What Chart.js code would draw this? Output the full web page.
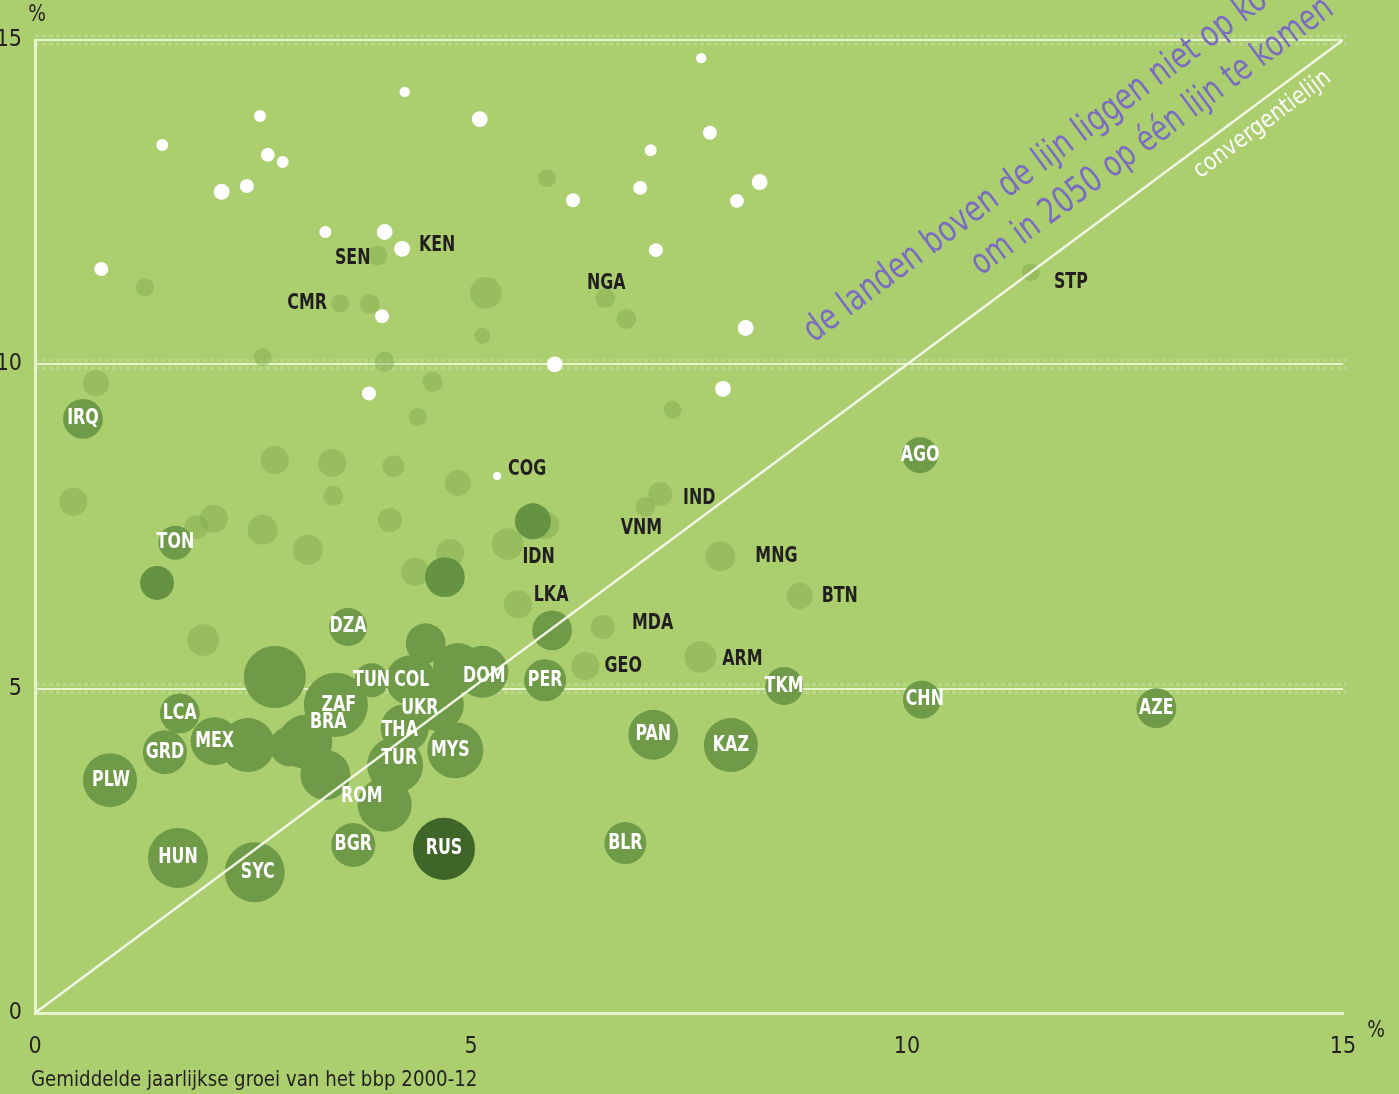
<!DOCTYPE html>
<html lang="nl">
<head>
<meta charset="utf-8">
<title>Groei en convergentie</title>
<script src="https://cdn.jsdelivr.net/npm/chart.js@4.4.1/dist/chart.umd.min.js"></script>
<style>
  html, body { margin: 0; padding: 0; background: #abce6f; }
  #wrap { width: 1399px; height: 1094px; }
</style>
</head>
<body>
<div id="wrap"><canvas id="groeiChart" width="1399" height="1094"></canvas></div>
<script>
// x: gemiddelde jaarlijkse groei bbp 2000-12 (%), y: benodigde groei (%), omvang: relatieve grootte van de bel

// lichte bellen
const lichtCodes  = ['', '', '', '', 'SEN', 'CMR', '', 'NGA', '', '', '', '', '', '', '', '', '', '', '', '', '', '', '', '', '', '', '', '', 'IDN', '', 'LKA', 'MDA', 'IND', 'VNM', 'MNG', 'BTN', 'GEO', 'ARM', 'STP', ''];
const lichtGroei  = [5.87, 1.26, 5.17, 5.13, 3.93, 3.50, 3.84, 6.54, 6.78, 2.61, 4.01, 0.70, 4.56, 4.39, 7.31, 2.75, 3.41, 4.11, 4.85, 3.42, 0.44, 2.05, 1.85, 2.61, 4.07, 3.13, 4.76, 4.36, 5.42, 5.85, 5.54, 6.51, 7.17, 7.00, 7.86, 8.77, 6.31, 7.63, 11.42, 1.93];
const lichtNodig  = [12.87, 11.19, 11.10, 10.44, 11.68, 10.94, 10.93, 11.02, 10.70, 10.11, 10.04, 9.71, 9.73, 9.19, 9.30, 8.52, 8.48, 8.43, 8.17, 7.97, 7.88, 7.62, 7.49, 7.45, 7.60, 7.14, 7.09, 6.80, 7.23, 7.52, 6.30, 5.95, 8.00, 7.80, 7.04, 6.43, 5.35, 5.49, 11.42, 5.75];
const lichtOmvang = [9, 9, 28, 7, 11, 9, 11, 11, 11, 9, 11, 19, 11, 9, 9, 22, 22, 13, 19, 11, 22, 22, 16, 25, 16, 25, 22, 22, 28, 22, 22, 16, 16, 11, 25, 19, 22, 28, 9, 28];

// witte stippen
const witCodes  = ['', '', '', '', '', '', '', '', '', 'KEN', '', '', '', '', '', '', '', '', '', '', '', '', '', '', '', 'COG'];
const witGroei  = [1.46, 2.58, 2.67, 2.84, 2.14, 2.43, 0.76, 3.33, 4.01, 4.21, 3.98, 3.83, 4.24, 5.10, 6.17, 6.94, 7.06, 7.12, 7.64, 7.74, 8.05, 8.31, 8.15, 5.96, 7.89, 5.30];
const witNodig  = [13.38, 13.83, 13.23, 13.12, 12.66, 12.75, 11.47, 12.04, 12.04, 11.78, 10.74, 9.55, 14.20, 13.78, 12.53, 12.72, 13.30, 11.76, 14.72, 13.57, 12.52, 12.81, 10.56, 10.00, 9.62, 8.28];
const witOmvang = [4, 4, 5.4, 4, 7, 5.4, 5.4, 4, 7, 7, 5.4, 5.4, 3, 7, 5.4, 5.4, 4, 5.4, 3, 5.4, 5.4, 7, 7, 7, 7, 1.8];

// middelgroene bellen
const middenCodes  = ['', '', '', '', '', '', '', 'IRQ', 'TON', 'DZA', 'LCA', 'GRD', 'MEX', 'PLW', 'HUN', 'SYC', 'ZAF', 'BRA', 'TUN', 'COL', 'DOM', 'UKR', 'THA', 'TUR', 'MYS', 'ROM', 'BGR', 'PER', 'PAN', 'KAZ', 'TKM', 'BLR', 'CHN', 'AZE', 'AGO'];
const middenGroei  = [2.75, 4.48, 4.85, 5.93, 2.44, 2.92, 3.33, 0.55, 1.61, 3.59, 1.66, 1.49, 2.06, 0.86, 1.64, 2.52, 3.45, 3.10, 3.86, 4.31, 5.13, 4.62, 4.24, 4.13, 4.82, 4.01, 3.65, 5.85, 7.09, 7.98, 8.59, 6.77, 10.17, 12.86, 10.15];
const middenNodig  = [5.18, 5.70, 5.32, 5.90, 4.13, 4.11, 3.67, 9.16, 7.25, 5.95, 4.62, 4.02, 4.19, 3.59, 2.39, 2.17, 4.75, 4.18, 5.13, 5.13, 5.26, 4.75, 4.39, 3.82, 4.05, 3.21, 2.59, 5.13, 4.29, 4.13, 5.04, 2.62, 4.83, 4.70, 8.60];
const middenOmvang = [107, 44, 69, 44, 81, 44, 69, 44, 32, 40, 44, 54, 64, 81, 100, 100, 114, 81, 32, 69, 75, 75, 64, 87, 87, 81, 54, 49, 69, 81, 40, 49, 40, 44, 36];

// donkergroene bellen
const donkerGroei  = [1.40, 4.70, 5.71];
const donkerNodig  = [6.63, 6.72, 7.58];
const donkerOmvang = [32, 44, 36];

// Rusland
const rusGroei = [4.69];
const rusNodig = [2.53];
const rusOmvang = [107];

const asTicks = [0, 5, 10, 15];

// verschuiving van een label t.o.v. het midden van zijn bel (px)
const labelShift = {
  SEN: [-25, 3], CMR: [-33, 0], NGA: [1, -15], KEN: [35, -3], COG: [30, -6],
  IDN: [31, 14], LKA: [33, -9], MDA: [50, -3], IND: [39, 4], VNM: [-4, 22],
  MNG: [56, 0], BTN: [40, 1], GEO: [38, 1], ARM: [42, 3], STP: [40, 10],
  ZAF: [3, 1], BRA: [23, -19], TUN: [0, 0], COL: [1, 0], DOM: [2, 5], UKR: [-18, 4],
  THA: [-5, 2], TUR: [4, -7], MYS: [-5, 0], ROM: [-23, -8], SYC: [3, 0],
  CHN: [3, 0], PLW: [1, 0]
};

const smal = "'Liberation Sans Narrow', 'DejaVu Sans Condensed', 'Open Sans', sans-serif";
const lichtLijn = 'rgba(236, 248, 214, 0.9)';
const asTitel = 'Gemiddelde jaarlijkse groei van het bbp 2000-12';

function punten(xs, ys, vs) {
  return xs.map((x, i) => ({ x: x, y: ys[i], v: vs[i] }));
}

const belStraal = c => 3 * Math.sqrt(c.raw.v);

// tekst iets smaller zetten dan het lettertype zelf
function smalleTekst(ctx, t, px, py, sx) {
  ctx.save();
  ctx.translate(px, py);
  ctx.scale(sx, 1);
  ctx.fillText(t, 0, 0);
  ctx.restore();
}

const achtergrond = {
  id: 'achtergrond',
  beforeDraw(chart) {
    const ctx = chart.ctx;
    ctx.save();
    ctx.fillStyle = '#abce6f';
    ctx.fillRect(0, 0, chart.width, chart.height);
    ctx.restore();
  },
  beforeDatasetsDraw(chart) {
    // gestippelde band rond de horizontale hulplijnen
    const { ctx, scales: { x, y } } = chart;
    ctx.save();
    ctx.strokeStyle = 'rgba(255, 255, 255, 0.2)';
    ctx.lineWidth = 3;
    ctx.setLineDash([4, 3]);
    [5, 10, 15].forEach(v => {
      const py = y.getPixelForValue(v);
      [-4, 4].forEach(d => {
        ctx.beginPath();
        ctx.moveTo(x.left, py + d);
        ctx.lineTo(x.right + 4, py + d);
        ctx.stroke();
      });
    });
    ctx.restore();
  }
};

const landLabels = {
  id: 'landLabels',
  afterDatasetsDraw(chart) {
    const ctx = chart.ctx;
    ctx.save();
    ctx.font = "bold 21px " + smal;
    ctx.textAlign = 'center';
    ctx.textBaseline = 'middle';
    chart.data.datasets.forEach((ds, di) => {
      if (!ds.codes) return;
      const meta = chart.getDatasetMeta(di);
      ctx.fillStyle = ds.labelColor;
      ds.codes.forEach((code, i) => {
        if (!code) return;
        const el = meta.data[i];
        const s = labelShift[code] || [0, 0];
        smalleTekst(ctx, code, el.x + s[0], el.y + s[1], 0.84);
      });
    });
    ctx.restore();
  },
  afterDraw(chart) {
    const { ctx, scales: { x, y } } = chart;
    const hoek = Math.atan2(y.getPixelForValue(15) - y.getPixelForValue(0),
                            x.getPixelForValue(15) - x.getPixelForValue(0));
    const tekst = (t, dx, dy, font, kleur, sx) => {
      ctx.save();
      ctx.translate(x.getPixelForValue(dx), y.getPixelForValue(dy));
      ctx.rotate(hoek);
      ctx.scale(sx, 1);
      ctx.font = font;
      ctx.fillStyle = kleur;
      ctx.textAlign = 'left';
      ctx.textBaseline = 'alphabetic';
      ctx.fillText(t, 0, 0);
      ctx.restore();
    };
    tekst('de landen boven de lijn liggen niet op koers', 8.93, 10.33, "36px " + smal, '#7a6cc2', 0.86);
    tekst('om in 2050 op één lijn te komen', 10.85, 11.36, "36px " + smal, '#7a6cc2', 0.84);
    tekst('convergentielijn', 13.36, 12.86, "24px " + smal, '#ffffff', 0.95);

    ctx.save();
    ctx.font = "23px " + smal;
    ctx.fillStyle = '#231f20';
    ctx.textAlign = 'center';
    ctx.textBaseline = 'middle';
    smalleTekst(ctx, '%', 37, 15, 0.9);
    smalleTekst(ctx, '%', 1376, 1031, 0.9);

    // astitel onder de x-as
    ctx.font = "22px " + smal;
    ctx.textAlign = 'left';
    smalleTekst(ctx, asTitel, 31, 1080, 0.92);
    ctx.restore();
  }
};

const ctx = document.getElementById('groeiChart').getContext('2d');

new Chart(ctx, {
  type: 'bubble',
  data: {
    datasets: [
      {
        type: 'line',
        label: 'convergentielijn',
        data: [{ x: 0, y: 0 }, { x: 15, y: 15 }],
        borderColor: 'rgba(245, 250, 235, 0.95)',
        borderWidth: 2.5,
        pointRadius: 0,
        order: 0
      },
      {
        label: 'Rusland',
        data: punten(rusGroei, rusNodig, rusOmvang),
        codes: ['RUS'],
        labelColor: '#ffffff',
        backgroundColor: '#3f6529',
        radius: belStraal,
        borderWidth: 0,
        order: 1
      },
      {
        label: 'donker',
        data: punten(donkerGroei, donkerNodig, donkerOmvang),
        backgroundColor: '#659342',
        radius: belStraal,
        borderWidth: 0,
        order: 2
      },
      {
        label: 'midden',
        data: punten(middenGroei, middenNodig, middenOmvang),
        codes: middenCodes,
        labelColor: '#ffffff',
        backgroundColor: '#6f9a48',
        radius: belStraal,
        borderWidth: 0,
        order: 3
      },
      {
        label: 'wit',
        data: punten(witGroei, witNodig, witOmvang),
        codes: witCodes,
        labelColor: '#231f20',
        backgroundColor: '#ffffff',
        radius: belStraal,
        borderWidth: 0,
        order: 4
      },
      {
        label: 'licht',
        data: punten(lichtGroei, lichtNodig, lichtOmvang),
        codes: lichtCodes,
        labelColor: '#231f20',
        backgroundColor: 'rgba(118, 164, 72, 0.38)',
        radius: belStraal,
        borderWidth: 0,
        order: 5
      }
    ]
  },
  options: {
    responsive: false,
    animation: false,
    events: [],
    layout: { padding: { top: 40, right: 56, left: 0, bottom: 0 } },
    scales: {
      x: {
        type: 'linear',
        min: 0,
        max: 15,
        afterBuildTicks: s => { s.ticks = asTicks.map(v => ({ value: v })); },
        afterFit: s => { s.height = 81; },
        ticks: { color: '#231f20', padding: 20, font: { size: 23, family: smal } },
        grid: { display: false, drawTicks: false },
        border: { display: true, color: lichtLijn, width: 3 },
        title: { display: false }
      },
      y: {
        type: 'linear',
        min: 0,
        max: 15,
        afterBuildTicks: s => { s.ticks = asTicks.map(v => ({ value: v })); },
        afterFit: s => { s.width = 35; },
        ticks: { color: '#231f20', padding: 13, font: { size: 23, family: smal } },
        grid: {
          drawTicks: false,
          color: c => (c.tick && c.tick.value > 0 ? lichtLijn : 'rgba(0,0,0,0)'),
          lineWidth: 2
        },
        border: { display: true, color: lichtLijn, width: 3 }
      }
    },
    plugins: {
      legend: { display: false },
      title: { display: false },
      tooltip: { enabled: false }
    }
  },
  plugins: [achtergrond, landLabels]
});
</script>
</body>
</html>
